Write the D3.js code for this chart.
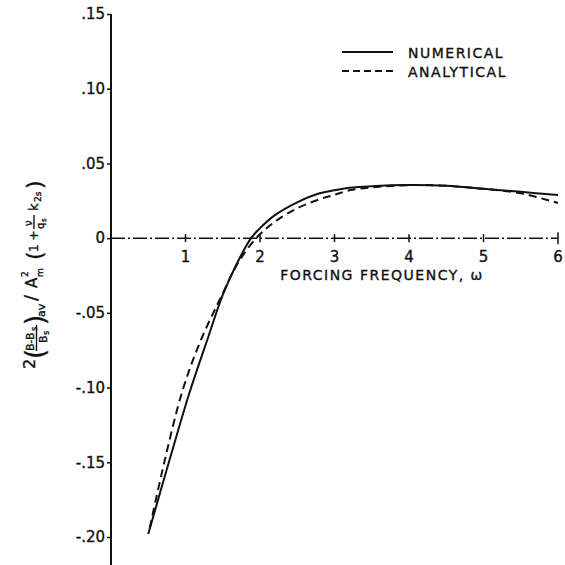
<!DOCTYPE html>
<html>
<head>
<meta charset="utf-8">
<script src="https://cdn.jsdelivr.net/npm/d3@7"></script>
<style>
  body { margin: 0; background: #fff; }
  text { font-family: "DejaVu Sans", sans-serif; fill: #111; stroke: #111; stroke-width: 0.35px; }
</style>
</head>
<body>
<div id="chart"></div>
<script>
// data
var numX = [0.5, 0.8, 1.05, 1.3, 1.5, 1.7, 1.88, 2.0, 2.2, 2.5, 2.8, 3.0, 3.2, 3.5, 4.0, 4.5, 5.0, 5.5, 6.0];
var numY = [-0.198, -0.146, -0.104, -0.067, -0.038, -0.016, 0.0, 0.0067, 0.0154, 0.024, 0.030, 0.032, 0.0337, 0.0348, 0.0355, 0.035, 0.033, 0.031, 0.0288];

var anaX = [0.52, 0.72, 0.96, 1.2, 1.5, 1.7, 1.95, 2.2, 2.5, 2.8, 3.0, 3.2, 3.5, 4.0, 4.5, 5.0, 5.5, 6.0];
var anaY = [-0.194, -0.149, -0.102, -0.069, -0.037, -0.017, 0.0, 0.011, 0.020, 0.026, 0.029, 0.032, 0.034, 0.0355, 0.035, 0.033, 0.030, 0.0235];

var xTicks = [1, 2, 3, 4, 5, 6];
var yTicks = [0.15, 0.10, 0.05, 0, -0.05, -0.10, -0.15, -0.20];
var yTickLabels = [".15", ".10", ".05", "0", "-.05", "-.10", "-.15", "-.20"];

var W = 565, H = 565;

var svg = d3.select("#chart").append("svg")
  .attr("width", W)
  .attr("height", H);

var x = d3.scaleLinear().domain([0, 6]).range([111, 558]);
var y = d3.scaleLinear().domain([-0.2, 0.15]).range([537, 14]);

// y axis (solid, full height)
svg.append("line")
  .attr("x1", x(0)).attr("x2", x(0))
  .attr("y1", y(0.15)).attr("y2", H)
  .attr("stroke", "#111").attr("stroke-width", 2);

var yAxis = d3.axisLeft(y)
  .tickValues(yTicks)
  .tickSize(4)
  .tickFormat(function(d, i) { return yTickLabels[i]; });

var gy = svg.append("g")
  .attr("transform", "translate(" + x(0) + ",0)")
  .call(yAxis);
gy.select(".domain").remove();
gy.selectAll(".tick line").attr("stroke", "#111").attr("stroke-width", 1.5);
gy.selectAll(".tick text")
  .attr("x", -6)
  .style("font-family", "DejaVu Sans, sans-serif")
  .style("font-size", "15px")
  .attr("fill", "#111");

// x axis: dash-dot line through zero
svg.append("line")
  .attr("x1", x(0)).attr("x2", x(6))
  .attr("y1", y(0)).attr("y2", y(0))
  .attr("stroke", "#111").attr("stroke-width", 1.5)
  .attr("stroke-dasharray", "14,3,2,3");

var gx = svg.append("g").attr("class", "xticks");
gx.selectAll("line").data(xTicks).enter().append("line")
  .attr("x1", function(d) { return x(d); })
  .attr("x2", function(d) { return x(d); })
  .attr("y1", function(d) { return y(0) - (d === 6 ? 6 : 4); })
  .attr("y2", function(d) { return y(0) + (d === 6 ? 6 : 4); })
  .attr("stroke", "#111").attr("stroke-width", 1.5);
gx.selectAll("text").data(xTicks).enter().append("text")
  .attr("x", function(d) { return x(d); })
  .attr("y", y(0) + 24)
  .attr("text-anchor", "middle")
  .style("font-size", "15px")
  .text(function(d) { return d; });

svg.append("text")
  .attr("x", 382)
  .attr("y", 280)
  .attr("text-anchor", "middle")
  .style("font-size", "14px")
  .style("letter-spacing", "1.5px")
  .text("FORCING FREQUENCY, ω");

// curves
var line = d3.line()
  .x(function(d) { return x(d[0]); })
  .y(function(d) { return y(d[1]); })
  .curve(d3.curveCatmullRom.alpha(0.5));

svg.append("path")
  .datum(d3.zip(numX, numY))
  .attr("d", line)
  .attr("fill", "none")
  .attr("stroke", "#111")
  .attr("stroke-width", 2);

svg.append("path")
  .datum(d3.zip(anaX, anaY))
  .attr("d", line)
  .attr("fill", "none")
  .attr("stroke", "#111")
  .attr("stroke-width", 2)
  .attr("stroke-dasharray", "8,5");

// legend
var legend = svg.append("g");
legend.append("line")
  .attr("x1", 342).attr("x2", 393).attr("y1", 52).attr("y2", 52)
  .attr("stroke", "#111").attr("stroke-width", 2);
legend.append("line")
  .attr("x1", 342).attr("x2", 393).attr("y1", 71).attr("y2", 71)
  .attr("stroke", "#111").attr("stroke-width", 2)
  .attr("stroke-dasharray", "7,4");
legend.append("text").attr("x", 408).attr("y", 58)
  .style("font-size", "14px").style("letter-spacing", "1.5px")
  .text("NUMERICAL");
legend.append("text").attr("x", 408).attr("y", 77)
  .style("font-size", "14px").style("letter-spacing", "1.5px")
  .text("ANALYTICAL");

// y axis label (rotated formula)
var lab = svg.append("g").attr("transform", "translate(36,268) rotate(-90)");
function piece(txt, px, py, fs) {
  lab.append("text").attr("x", px).attr("y", py)
    .style("font-size", fs + "px").text(txt);
}
function bar(x1, x2, yy) {
  lab.append("line").attr("x1", x1).attr("x2", x2).attr("y1", yy).attr("y2", yy)
    .attr("stroke", "#111").attr("stroke-width", 1.4);
}
piece("2", -101, -1, 16);
piece("(", -91, 8, 26);
piece("B-B", -83, -2, 11);
piece("s", -63, 1, 8);
bar(-83, -57, 0.5);
piece("B", -75, 11, 11);
piece("s", -67, 13, 8);
piece(")", -57, 8, 26);
piece("av", -49, 9, 11);
piece("/", -33, 1, 18);
piece("A", -20, 1, 15);
piece("2", -9, -8, 9);
piece("m", -9, 7, 9);
piece("(", 8, 6, 22);
piece("1 +", 16, 2, 12);
piece("ν", 42, -4, 10);
bar(39, 53, -2);
piece("q", 39, 8, 10);
piece("s", 46, 10, 7);
piece("k", 57, 2, 13);
piece("2s", 66, 5, 9);
piece(")", 79, 6, 22);
</script>
</body>
</html>
